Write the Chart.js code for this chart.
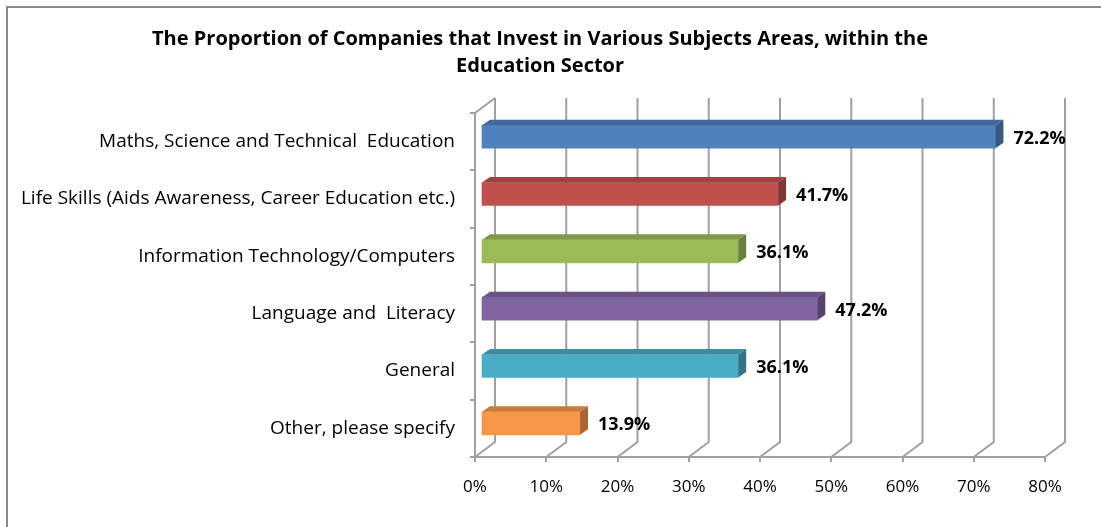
<!DOCTYPE html>
<html>
<head>
<meta charset="utf-8">
<title>Subject areas chart</title>
<script src="https://cdn.jsdelivr.net/npm/chart.js@4.4.1/dist/chart.umd.min.js"></script>
<style>
  html, body { margin: 0; padding: 0; background: #fff; }
  #wrap { width: 1101px; height: 527px; }
</style>
</head>
<body>
<div id="wrap"><canvas id="subjectChart" width="1101" height="527"></canvas></div>
<script>
const categories = [
  'Maths, Science and Technical  Education',
  'Life Skills (Aids Awareness, Career Education etc.)',
  'Information Technology/Computers',
  'Language and  Literacy',
  'General',
  'Other, please specify'
];
const shares = [72.2, 41.7, 36.1, 47.2, 36.1, 13.9];
const barColors = ['#4F81BD', '#C0504D', '#9BBB59', '#8064A2', '#4BACC6', '#F79646'];
const titleLines = [
  'The Proportion of Companies that Invest in Various Subjects Areas, within the',
  'Education Sector'
];

const GRID = '#a0a0a0';
const FONT = '"Open Sans", Lato, sans-serif';
// offsets of the fake 3D: back wall, bar front, bar depth
const WALL = { dx: 20, dy: -15 };
const FRONT = { dx: 6, dy: -5 };
const DEPTH = { dx: 8, dy: -5.5 };

function shade(hex, f) {
  const n = parseInt(hex.slice(1), 16);
  const r = Math.round(((n >> 16) & 255) * f);
  const g = Math.round(((n >> 8) & 255) * f);
  const b = Math.round((n & 255) * f);
  return `rgb(${r},${g},${b})`;
}

const frame = {
  id: 'frame',
  afterLayout(chart) {
    // title is centred over the plot, not the whole canvas
    if (chart.titleBlock) {
      chart.titleBlock.left = 35;
      chart.titleBlock.right = chart.chartArea.right;
    }
  },
  beforeDraw(chart) {
    const ctx = chart.ctx;
    ctx.save();
    ctx.fillStyle = '#fff';
    ctx.fillRect(0, 0, chart.width, chart.height);
    ctx.strokeStyle = '#8a8a8a';
    ctx.lineWidth = 2;
    ctx.strokeRect(7, 7, chart.width + 20, chart.height + 20);
    ctx.restore();
  }
};

const walls = {
  id: 'walls',
  beforeDatasetsDraw(chart) {
    const { ctx, chartArea: a, scales: { x } } = chart;
    ctx.save();
    ctx.strokeStyle = GRID;
    ctx.lineWidth = 2;
    ctx.beginPath();
    x.ticks.forEach(t => {
      const px = x.getPixelForValue(t.value);
      ctx.moveTo(px, a.bottom);
      ctx.lineTo(px + WALL.dx, a.bottom + WALL.dy);
      ctx.lineTo(px + WALL.dx, a.top + WALL.dy);
    });
    ctx.moveTo(a.left, a.top);
    ctx.lineTo(a.left + WALL.dx, a.top + WALL.dy);
    ctx.stroke();
    ctx.restore();
    // bars sit a little behind the front plane
    ctx.save();
    ctx.translate(FRONT.dx, FRONT.dy);
  },
  afterDatasetsDraw(chart) {
    const ctx = chart.ctx;
    const meta = chart.getDatasetMeta(0);
    meta.data.forEach((bar, i) => {
      const { x, y, base, height } = bar.getProps(['x', 'y', 'base', 'height'], true);
      const top = y - height / 2;
      const bottom = y + height / 2;
      const c = barColors[i];
      ctx.beginPath();
      ctx.moveTo(base, top);
      ctx.lineTo(x, top);
      ctx.lineTo(x + DEPTH.dx, top + DEPTH.dy);
      ctx.lineTo(base + DEPTH.dx, top + DEPTH.dy);
      ctx.closePath();
      ctx.fillStyle = shade(c, 0.82);
      ctx.fill();
      ctx.beginPath();
      ctx.moveTo(x, top);
      ctx.lineTo(x + DEPTH.dx, top + DEPTH.dy);
      ctx.lineTo(x + DEPTH.dx, bottom + DEPTH.dy);
      ctx.lineTo(x, bottom);
      ctx.closePath();
      ctx.fillStyle = shade(c, 0.68);
      ctx.fill();
      ctx.fillStyle = '#000';
      ctx.font = 'bold 18px ' + FONT;
      ctx.textAlign = 'left';
      ctx.textBaseline = 'middle';
      ctx.fillText(shares[i].toFixed(1) + '%', x + 10 + DEPTH.dx, y + 2);
    });
    ctx.restore();
  }
};

new Chart(document.getElementById('subjectChart'), {
  type: 'bar',
  data: {
    labels: categories,
    datasets: [{
      data: shares,
      backgroundColor: barColors,
      borderWidth: 0,
      barThickness: 23
    }]
  },
  options: {
    indexAxis: 'y',
    responsive: false,
    animation: false,
    layout: { padding: { left: 0, right: 56, top: 0, bottom: 0 } },
    plugins: {
      legend: { display: false },
      tooltip: { enabled: false },
      title: {
        display: true,
        text: titleLines,
        color: '#000',
        font: { family: FONT, size: 20, weight: 'bold', lineHeight: 1.35 },
        padding: { top: 26, bottom: 33 }
      }
    },
    scales: {
      x: {
        min: 0,
        max: 80,
        afterFit(scale) { scale.height = 70; },
        ticks: {
          stepSize: 10,
          color: '#000',
          padding: 15,
          font: { family: FONT, size: 17 },
          callback: v => v + '%'
        },
        grid: { drawOnChartArea: false, drawTicks: true, tickLength: 5, color: GRID, lineWidth: 2 },
        border: { display: true, color: GRID, width: 2 }
      },
      y: {
        afterFit(scale) { scale.width = 475; },
        ticks: {
          color: '#000',
          padding: 15,
          font: { family: FONT, size: 19 }
        },
        grid: { drawOnChartArea: false, drawTicks: true, tickLength: 5, color: GRID, lineWidth: 2 },
        border: { display: true, color: GRID, width: 2 }
      }
    }
  },
  plugins: [frame, walls]
});
</script>
</body>
</html>
